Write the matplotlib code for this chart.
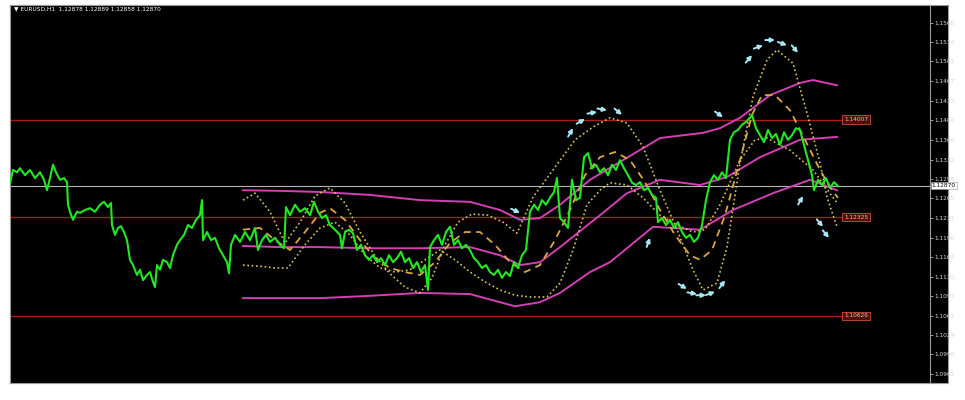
import matplotlib
matplotlib.use('Agg')
import matplotlib.pyplot as plt
import numpy as np

# ---------- data (bar index from the left edge, price) ----------
price_bars = [0, 3, 7, 10, 15, 20, 25, 30, 34, 37, 40, 43, 46, 50, 54, 57, 58, 60, 63, 67,
              70, 75, 80, 85, 90, 94, 98, 101, 102, 105, 108, 111, 114, 117, 120, 123, 127, 130, 133, 137,
              140, 143, 145, 147, 150, 153, 157, 160, 163, 167, 170, 174, 178, 182, 186, 190, 192, 193, 197, 201,
              205, 209, 213, 217, 219, 221, 225, 230, 235, 240, 245, 248, 252, 256, 260, 265, 270, 274, 276, 280,
              285, 290, 295, 300, 304, 308, 312, 316, 320, 325, 330, 332, 335, 339, 343, 347, 351, 355, 359, 363,
              367, 371, 375, 379, 383, 387, 391, 395, 399, 403, 407, 411, 415, 418, 420, 424, 428, 432, 436, 440,
              444, 448, 452, 456, 460, 464, 468, 472, 476, 480, 484, 488, 492, 496, 500, 504, 508, 512, 516, 520,
              524, 528, 532, 536, 540, 544, 547, 550, 554, 558, 562, 566, 570, 574, 578, 582, 586, 590, 594, 598,
              602, 606, 610, 614, 618, 622, 626, 630, 634, 638, 642, 646, 648, 652, 656, 660, 664, 668, 672, 676,
              680, 684, 688, 692, 696, 700, 704, 708, 712, 716, 720, 724, 728, 732, 736, 740, 742, 746, 750, 754,
              758, 762, 766, 770, 774, 778, 782, 786, 790, 794, 798, 802, 804, 808, 812, 816, 820, 824, 828]
price_close = [1.1291, 1.1314, 1.1310, 1.1317, 1.1305, 1.1314, 1.1300, 1.1310, 1.1297, 1.1279,
               1.1300, 1.1323, 1.1310, 1.1297, 1.1300, 1.1293, 1.1254, 1.1242, 1.1228, 1.1242,
               1.1240, 1.1245, 1.1248, 1.1242, 1.1254, 1.1259, 1.1250, 1.1257, 1.1219, 1.1202,
               1.1214, 1.1217, 1.1207, 1.1193, 1.1159, 1.1150, 1.1133, 1.1142, 1.1124, 1.1133,
               1.1138, 1.1121, 1.1112, 1.1150, 1.1142, 1.1159, 1.1155, 1.1145, 1.1167, 1.1185,
               1.1193, 1.1202, 1.1219, 1.1214, 1.1228, 1.1236, 1.1262, 1.1193, 1.1207, 1.1193,
               1.1197, 1.1179, 1.1167, 1.1155, 1.1136, 1.1185, 1.1202, 1.1190, 1.1207, 1.1193,
               1.1214, 1.1176, 1.1193, 1.1202, 1.1190, 1.1197, 1.1185, 1.1179, 1.1250, 1.1236,
               1.1254, 1.1242, 1.1248, 1.1236, 1.1259, 1.1242, 1.1231, 1.1236, 1.1219, 1.1211,
               1.1202, 1.1179, 1.1207, 1.1211, 1.1205, 1.1176, 1.1185, 1.1167, 1.1159, 1.1167,
               1.1155, 1.1162, 1.1150, 1.1167, 1.1155, 1.1162, 1.1173, 1.1155, 1.1162, 1.1145,
               1.1155, 1.1138, 1.1150, 1.1107, 1.1181, 1.1193, 1.1202, 1.1185, 1.1207, 1.1216,
               1.1185, 1.1193, 1.1179, 1.1185, 1.1176, 1.1162, 1.1155, 1.1145, 1.1150, 1.1138,
               1.1133, 1.1142, 1.1128, 1.1138, 1.1131, 1.1155, 1.1145, 1.1167, 1.1176, 1.1242,
               1.1254, 1.1245, 1.1262, 1.1254, 1.1266, 1.1276, 1.1300, 1.1231, 1.1224, 1.1214,
               1.1297, 1.1262, 1.1266, 1.1336, 1.1343, 1.1317, 1.1323, 1.1310, 1.1317, 1.1305,
               1.1323, 1.1314, 1.1331, 1.1317, 1.1305, 1.1292, 1.1288, 1.1293, 1.1279, 1.1283,
               1.1271, 1.1266, 1.1224, 1.1231, 1.1219, 1.1228, 1.1214, 1.1224, 1.1207, 1.1197,
               1.1202, 1.1190, 1.1197, 1.1219, 1.1262, 1.1293, 1.1305, 1.1297, 1.1310, 1.1300,
               1.1366, 1.1379, 1.1383, 1.1392, 1.1397, 1.1404, 1.1409, 1.1386, 1.1374, 1.1362,
               1.1383, 1.1369, 1.1376, 1.1357, 1.1379, 1.1366, 1.1374, 1.1386, 1.1383, 1.1357,
               1.1331, 1.1305, 1.1279, 1.1297, 1.1288, 1.1300, 1.1283, 1.1293, 1.1286]

# long period envelope (magenta)
env_bars = [233, 270, 310, 360, 410, 460, 490, 510, 530, 550, 580, 617, 650, 693, 710, 730, 760, 790, 803, 827]
env_upper = [1.1279, 1.1278, 1.1276, 1.1271, 1.1262, 1.1259, 1.1245, 1.1228, 1.1231, 1.1254,
             1.1297, 1.1335, 1.1369, 1.1378, 1.1386, 1.1404, 1.1443, 1.1464, 1.1469, 1.1460]
mid_env_bars = [233, 270, 310, 360, 410, 460, 490, 510, 530, 550, 590, 617, 650, 690, 717, 750, 790, 827]
env_middle = [1.1183, 1.1181, 1.1181, 1.1179, 1.1179, 1.1181, 1.1167, 1.1150, 1.1155, 1.1181,
              1.1236, 1.1274, 1.1297, 1.1288, 1.1302, 1.1336, 1.1366, 1.1371]
low_env_bars = [233, 270, 310, 360, 410, 460, 490, 505, 530, 550, 580, 600, 643, 690, 723, 763, 800, 827]
env_lower = [1.1093, 1.1093, 1.1093, 1.1097, 1.1102, 1.1100, 1.1086, 1.1079, 1.1086, 1.1102,
             1.1138, 1.1155, 1.1216, 1.1211, 1.1245, 1.1274, 1.1297, 1.1279]

# short period centred bands (yellow)
tma_bars = [233, 250, 265, 280, 295, 310, 320, 335, 350, 365, 380, 395, 410, 425, 440, 455, 470, 485, 500, 515,
            530, 545, 560, 575, 590, 605, 620, 635, 650, 665, 680, 690, 702, 715, 730, 742, 752, 765, 780, 795,
            810, 822, 828]
tma_mid = [1.1211, 1.1214, 1.1193, 1.1176, 1.1207, 1.1240, 1.1248, 1.1228, 1.1193, 1.1162,
           1.1145, 1.1138, 1.1133, 1.1155, 1.1188, 1.1207, 1.1207, 1.1185, 1.1155, 1.1138,
           1.1150, 1.1193, 1.1245, 1.1305, 1.1336, 1.1345, 1.1331, 1.1293, 1.1245, 1.1202,
           1.1167, 1.1159, 1.1176, 1.1236, 1.1331, 1.1409, 1.1443, 1.1443, 1.1417, 1.1366,
           1.1314, 1.1279, 1.1266]
up_bars = [233, 245, 260, 275, 290, 305, 320, 335, 350, 365, 380, 395, 410, 422, 435, 448, 462, 478, 493, 507,
           523, 543, 565, 583, 600, 617, 633, 650, 667, 683, 693, 707, 717, 730, 743, 757, 767, 783, 797, 810,
           817, 827]
tma_upper = [1.1262, 1.1274, 1.1242, 1.1188, 1.1224, 1.1269, 1.1283, 1.1257, 1.1207, 1.1166,
             1.1135, 1.1112, 1.1102, 1.1128, 1.1185, 1.1224, 1.1238, 1.1236, 1.1224, 1.1205,
             1.1267, 1.1314, 1.1366, 1.1388, 1.1404, 1.1395, 1.1354, 1.1279, 1.1211, 1.1142,
             1.1107, 1.1119, 1.1181, 1.1326, 1.1440, 1.1504, 1.1521, 1.1498, 1.1412, 1.1326,
             1.1267, 1.1216]
lo_bars = [233, 250, 265, 278, 295, 310, 325, 340, 355, 370, 385, 400, 415, 430, 445, 460, 475, 490, 505, 520,
           537, 550, 563, 577, 590, 600, 617, 633, 650, 667, 683, 695, 710, 730, 745, 757, 780, 803, 827]
tma_lower = [1.1150, 1.1148, 1.1145, 1.1145, 1.1185, 1.1214, 1.1224, 1.1202, 1.1167, 1.1145,
             1.1138, 1.1142, 1.1159, 1.1176, 1.1159, 1.1138, 1.1121, 1.1107, 1.1098, 1.1095,
             1.1095, 1.1119, 1.1176, 1.1254, 1.1279, 1.1292, 1.1288, 1.1266, 1.1236, 1.1219,
             1.1207, 1.1211, 1.1254, 1.1331, 1.1366, 1.1369, 1.1348, 1.1314, 1.1257]

# signal arrows: bar, price, direction (deg)
arrow_bars = [563, 575, 587, 597, 612, 742, 753, 765, 777, 788, 677, 687, 696, 705, 715,
              713, 510, 640, 793, 813, 819]
arrow_prices = [1.1386, 1.1402, 1.1414, 1.1417, 1.1409, 1.1512, 1.1529, 1.1538, 1.1529, 1.1516,
                1.1109, 1.1100, 1.1098, 1.1104, 1.1124, 1.1405, 1.1240, 1.1197, 1.1269, 1.1216, 1.1197]
arrow_dirs = [60, 30, 10, -10, -40, 50, 20, 0, -20, -50, -30, -10, 0, 20, 55, -35, -25, 70, 60, -50, -50]

levels = [1.14007, 1.12325, 1.10626]
level_labels = ['1.14007', '1.12325', '1.10626']
last_price = 1.12870
scale_ticks = [1.1568, 1.1534, 1.1501, 1.1467, 1.1433, 1.1400, 1.1366, 1.1332, 1.1298, 1.1265,
               1.1231, 1.1196, 1.1164, 1.1130, 1.1097, 1.1062, 1.1029, 1.0996, 1.0962]
header = '\u25bc EURUSD,H1  1.12878 1.12889 1.12858 1.12870'

# ---------- drawing ----------
W, H = 965, 400
fig = plt.figure(figsize=(W / 100, H / 100), dpi=100, facecolor='white')

# black panel incl. price scale
panel = fig.add_axes([10 / W, 17 / H, 938 / W, 378 / H])
panel.set_facecolor('black')
panel.set_xticks([])
panel.set_yticks([])
for s in panel.spines.values():
    s.set_color('#9a9a9a')
    s.set_linewidth(0.8)

ax = fig.add_axes([10 / W, 17 / H, 920 / W, 378 / H])
ax.set_facecolor('black')
ax.set_xlim(0, 920)
ax.set_ylim(1.09467, 1.15984)
ax.set_xticks([])
for s in ax.spines.values():
    s.set_color('#9a9a9a')
    s.set_linewidth(0.8)

ax.yaxis.tick_right()
ax.set_yticks(scale_ticks)
ax.set_yticklabels([f'{t:.4f}' for t in scale_ticks])
ax.tick_params(axis='y', colors='#d8d8d8', labelsize=4.2, length=2, width=0.5, pad=1)

# horizontal levels
for lv, lab in zip(levels, level_labels):
    ax.hlines(lv, 0, 833, color='#a81c1c', lw=1.0, zorder=1)
    ax.text(834, lv, lab, fontsize=4.2, color='#f2b8a8', va='center', ha='left', zorder=6,
            bbox=dict(facecolor='#4a1208', edgecolor='#c8503c', lw=0.6, pad=1.2))
ax.axhline(last_price, color='#b4b4b4', lw=0.8, zorder=1)
ax.text(1.002, last_price, f'{last_price:.5f}', transform=ax.get_yaxis_transform(),
        fontsize=4.2, color='black', va='center', ha='left', zorder=7,
        bbox=dict(facecolor='white', edgecolor='#9a9a9a', lw=0.4, pad=0.8), clip_on=False)

# envelope
mag = '#d43fb4'
ax.plot(env_bars, env_upper, color=mag, lw=1.4, zorder=2)
ax.plot(mid_env_bars, env_middle, color=mag, lw=1.4, zorder=2)
ax.plot(low_env_bars, env_lower, color=mag, lw=1.4, zorder=2)

# centred bands
ax.plot(up_bars, tma_upper, color='#d8c25a', lw=1.2, ls=(0, (1, 1.6)), zorder=3)
ax.plot(lo_bars, tma_lower, color='#d8c25a', lw=1.2, ls=(0, (1, 1.6)), zorder=3)
ax.plot(tma_bars, tma_mid, color='#d9a842', lw=1.3, ls=(0, (4, 3)), zorder=3)

# price
ax.plot(price_bars, price_close, color='#22e822', lw=1.5, zorder=4)

# arrows
for b, p, d in zip(arrow_bars, arrow_prices, arrow_dirs):
    a = np.deg2rad(d)
    ax.annotate('', xy=(b, p), xytext=(-7 * np.cos(a), -7 * np.sin(a)), textcoords='offset points',
                arrowprops=dict(arrowstyle='-|>', color='#a8e8f6', lw=1.4, mutation_scale=6,
                                shrinkA=0, shrinkB=0), zorder=5)

ax.text(0.004, 0.997, header, transform=ax.transAxes, fontsize=4.2, color='white',
        va='top', ha='left', family=['DejaVu Sans'])

fig.savefig('out.png', dpi=100, facecolor='white')
